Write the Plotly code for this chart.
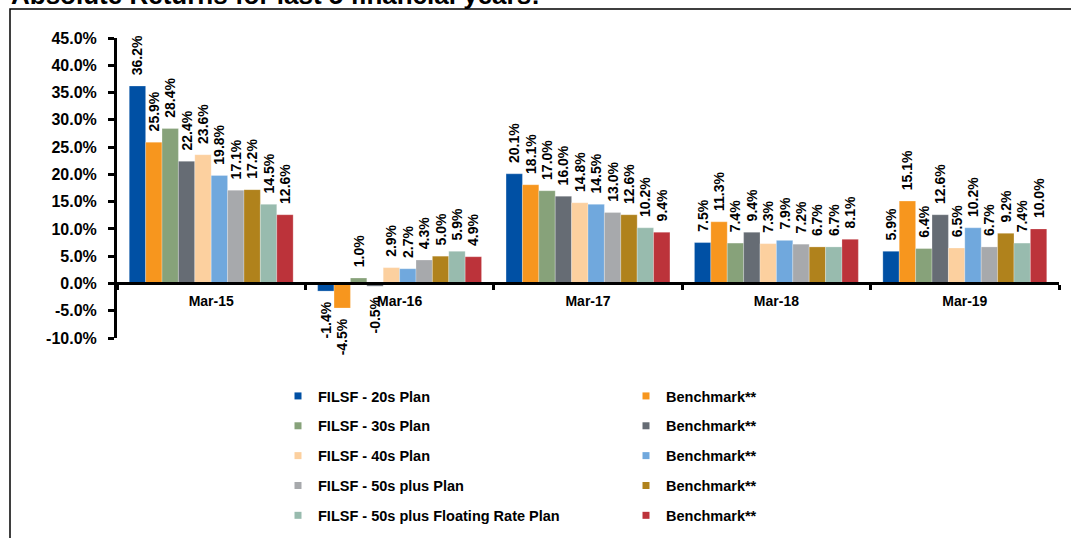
import plotly.graph_objects as go

categories = ["Mar-15", "Mar-16", "Mar-17", "Mar-18", "Mar-19"]

series_names = [
    "FILSF - 20s Plan", "Benchmark**",
    "FILSF - 30s Plan", "Benchmark**",
    "FILSF - 40s Plan", "Benchmark**",
    "FILSF - 50s plus Plan", "Benchmark**",
    "FILSF - 50s plus Floating Rate Plan", "Benchmark**",
]

s20 = [36.2, -1.4, 20.1, 7.5, 5.9]
b20 = [25.9, -4.5, 18.1, 11.3, 15.1]
s30 = [28.4, 1.0, 17.0, 7.4, 6.4]
b30 = [22.4, -0.5, 16.0, 9.4, 12.6]
s40 = [23.6, 2.9, 14.8, 7.3, 6.5]
b40 = [19.8, 2.7, 14.5, 7.9, 10.2]
s50 = [17.1, 4.3, 13.0, 7.2, 6.7]
b50 = [17.2, 5.0, 12.6, 6.7, 9.2]
s50f = [14.5, 5.9, 10.2, 6.7, 7.4]
b50f = [12.6, 4.9, 9.4, 8.1, 10.0]

series_values = [s20, b20, s30, b30, s40, b40, s50, b50, s50f, b50f]

colors = ["#0050A4", "#F7961E", "#87A27A", "#666C74", "#FCD09F",
          "#70A8DD", "#A7A9AC", "#B0821C", "#98BBAE", "#BC333A"]

ytick_vals = [-10, -5, 0, 5, 10, 15, 20, 25, 30, 35, 40, 45]
ytick_text = [f"{v:.1f}%" for v in ytick_vals]

title_text = "Absolute Returns for last 5 financial years:"

FONT = "Liberation Sans, Arial, sans-serif"

# plot area geometry (pixels)
W, H = 1071, 538
L, R, T, B = 117, 12, 38, 200
PW = W - L - R
PH = H - T - B

def px_x(px):
    return (px - L) / PW

def px_y(py):
    return (H - B - py) / PH

NB = "\u00a0\u00a0"

def fmt(v):
    s = f"{v:.1f}%"
    return NB + s if v >= 0 else s + NB

fig = go.Figure()

for i, (name, vals, col) in enumerate(zip(series_names, series_values, colors)):
    fig.add_trace(go.Bar(
        x=categories, y=vals, name=name,
        marker=dict(color=col, line=dict(color="rgba(255,255,255,0.5)", width=0.5)),
        text=[fmt(v) for v in vals],
        textposition="outside", textangle=-90,
        textfont=dict(family=FONT, size=14, color="black", weight="bold"),
        constraintext="none", cliponaxis=False,
        showlegend=False,
    ))

# legend entries (small square markers), two columns
for i, (name, col) in enumerate(zip(series_names, colors)):
    fig.add_trace(go.Scatter(
        x=[None], y=[None], mode="markers", name=name,
        marker=dict(symbol="square", size=7, color=col),
        legend="legend" if i % 2 == 0 else "legend2",
        legendgroup=f"g{i}",
        showlegend=True,
    ))

legend_common = dict(
    orientation="v", yanchor="top", xanchor="left",
    font=dict(family=FONT, size=14.5, color="black", weight="bold"),
    bgcolor="rgba(0,0,0,0)", tracegroupgap=8, itemwidth=30,
    y=px_y(380),
)

fig.update_layout(
    width=W, height=H,
    margin=dict(l=L, r=R, t=T, b=B, autoexpand=False),
    paper_bgcolor="white", plot_bgcolor="white",
    barmode="group", bargap=0.13, bargroupgap=0,
    font=dict(family=FONT, color="black"),
    legend=dict(x=px_x(278), **legend_common),
    legend2=dict(x=px_x(626), **legend_common),
    xaxis=dict(
        type="category", anchor="free", position=10 / 55,
        showline=True, linecolor="black", linewidth=3,
        ticks="outside", tickson="boundaries", ticklen=5, tickwidth=3, tickcolor="black",
        tickfont=dict(family=FONT, size=14, color="black", weight="bold"),
        showgrid=False, zeroline=False, ticklabelstandoff=4,
    ),
    yaxis=dict(
        range=[-10, 45], tickvals=ytick_vals, ticktext=ytick_text,
        showline=True, linecolor="black", linewidth=3,
        ticks="outside", ticklen=6, tickwidth=3, tickcolor="black",
        tickfont=dict(family=FONT, size=16, color="black", weight="bold"),
        showgrid=False, zeroline=False, ticklabelstandoff=8,
    ),
    shapes=[dict(
        type="path", xref="paper", yref="paper",
        path=f"M {px_x(10)},{px_y(545)} L {px_x(10)},{px_y(9)} L {px_x(1080)},{px_y(9)}",
        line=dict(color="black", width=1.5),
    )],
    annotations=[dict(
        text=title_text, xref="paper", yref="paper",
        x=px_x(9), y=px_y(12), xanchor="left", yanchor="bottom",
        showarrow=False,
        font=dict(family=FONT, size=26, color="black", weight="bold"),
    )],
)

fig.write_html(
    "out.html",
    config={"displayModeBar": False},
    post_script="document.body.style.margin='0';document.body.style.overflow='hidden';",
)
